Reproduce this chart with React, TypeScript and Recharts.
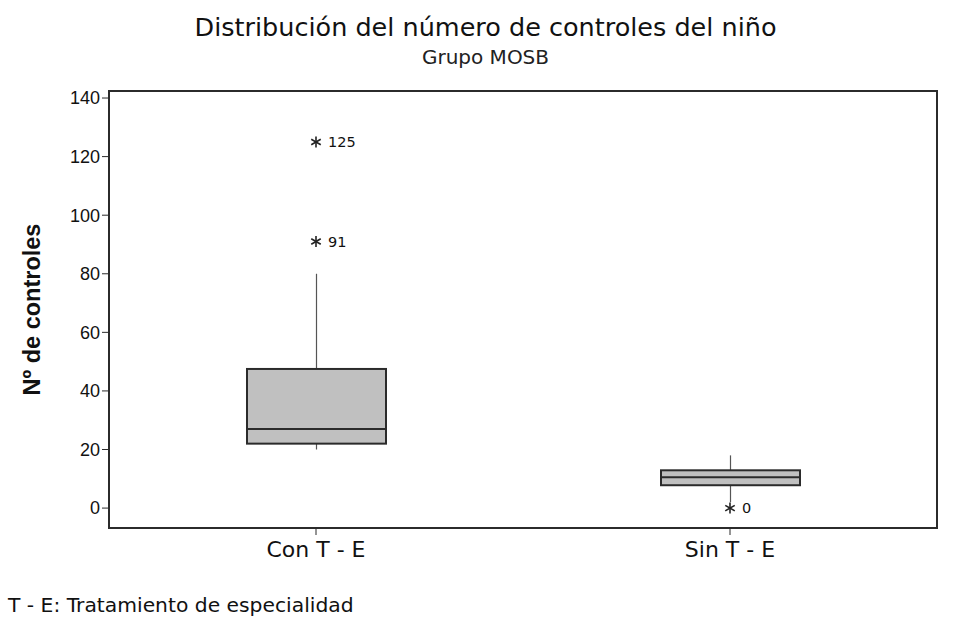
import React from "react";
import {
  ComposedChart,
  Bar,
  Scatter,
  XAxis,
  YAxis,
  ReferenceArea,
} from "recharts";

const grupos = ["Con T - E", "Sin T - E"];
const minimos = [20, 2];
const cuartil1 = [22, 7.8];
const medianas = [27, 10.5];
const cuartil3 = [47.5, 12.9];
const maximos = [80, 18];
const atipicosA = [91, 0];
const atipicosB = [125, null];
const yTicks = [0, 20, 40, 60, 80, 100, 120, 140];

const data = grupos.map((g, i) => ({
  grupo: g,
  bigotes: [minimos[i], maximos[i]],
  caja: [cuartil1[i], cuartil3[i]],
  mediana: medianas[i],
  outA: atipicosA[i],
  outB: atipicosB[i],
}));

const BOX_W = 139;
const INK = "#2b2b2b";
const UI_FONT = "'DejaVu Sans', Verdana, sans-serif";
const NUM_FONT = "'Liberation Sans', Arial, sans-serif";

const Bigote = (props: any) => {
  const { x, y, width, height } = props;
  const cx = x + width / 2;
  return <line x1={cx} x2={cx} y1={y} y2={y + height} stroke="#555" strokeWidth={1.2} />;
};

const Caja = (props: any) => {
  const { x, y, width, height } = props;
  return (
    <rect x={x} y={y} width={width} height={height} fill="#c0c0c0" stroke={INK} strokeWidth={2} />
  );
};

const LineaMediana = (props: any) => {
  const { cx, cy } = props;
  if (!Number.isFinite(cy)) return null;
  return (
    <line x1={cx - BOX_W / 2} x2={cx + BOX_W / 2} y1={cy} y2={cy} stroke={INK} strokeWidth={2} />
  );
};

const asterisco = (key: "outA" | "outB") => (props: any) => {
  const { cx, cy, payload } = props;
  const v = payload[key];
  if (v == null || !Number.isFinite(cy)) return null;
  const r = 5.5;
  const spokes = [90, 30, -30];
  return (
    <g>
      {spokes.map((a) => {
        const dx = r * Math.cos((a * Math.PI) / 180);
        const dy = r * Math.sin((a * Math.PI) / 180);
        return (
          <line key={a} x1={cx - dx} y1={cy - dy} x2={cx + dx} y2={cy + dy} stroke="#222" strokeWidth={1.6} />
        );
      })}
      <text x={cx + 12} y={cy + 5} fontSize={14.5} fontFamily={UI_FONT} fill="#111">
        {v}
      </text>
    </g>
  );
};

export default function App() {
  return (
    <div style={{ position: "absolute", left: 0, top: 0, width: 971, height: 637, background: "#fff" }}>
      <div
        style={{
          position: "absolute",
          top: 12,
          width: 971,
          textAlign: "center",
          fontFamily: UI_FONT,
          fontSize: 25.5,
          color: "#111",
        }}
      >
        Distribución del número de controles del niño
      </div>
      <div
        style={{
          position: "absolute",
          top: 45,
          width: 971,
          textAlign: "center",
          fontFamily: UI_FONT,
          fontSize: 20,
          color: "#222",
        }}
      >
        Grupo MOSB
      </div>
      <div
        style={{
          position: "absolute",
          left: 8,
          top: 593,
          fontFamily: UI_FONT,
          fontSize: 20.3,
          color: "#111",
        }}
      >
        T - E: Tratamiento de especialidad
      </div>
      <ComposedChart
        width={971}
        height={637}
        data={data}
        margin={{ top: 91, right: 34, bottom: 79, left: 49 }}
      >
        <XAxis
          dataKey="grupo"
          axisLine={false}
          tickLine={{ stroke: INK }}
          tickSize={7}
          tick={{ fontSize: 22, fontFamily: UI_FONT, fill: "#111", dy: 4 }}
          height={30}
        />
        <XAxis xAxisId="w" dataKey="grupo" hide />
        <YAxis
          domain={[-6.8, 142.4]}
          ticks={yTicks}
          allowDataOverflow
          axisLine={false}
          tickLine={{ stroke: INK }}
          tickSize={7}
          width={60}
          tick={{ fontSize: 18, fontFamily: NUM_FONT, fill: "#111" }}
          label={{
            value: "Nº de controles",
            angle: -90,
            position: "insideLeft",
            offset: -17,
            style: { fontSize: 23.5, fontWeight: "bold", fontFamily: NUM_FONT, fill: "#111", textAnchor: "middle" },
          }}
        />
        <ReferenceArea y1={-6.8} y2={142.4} fill="none" stroke={INK} strokeWidth={2} ifOverflow="visible" />
        <Bar xAxisId="w" dataKey="bigotes" barSize={BOX_W} shape={<Bigote />} isAnimationActive={false} />
        <Bar dataKey="caja" barSize={BOX_W} shape={<Caja />} isAnimationActive={false} />
        <Scatter dataKey="mediana" shape={<LineaMediana />} isAnimationActive={false} />
        <Scatter dataKey="outA" shape={asterisco("outA")} isAnimationActive={false} />
        <Scatter dataKey="outB" shape={asterisco("outB")} isAnimationActive={false} />
      </ComposedChart>
    </div>
  );
}
